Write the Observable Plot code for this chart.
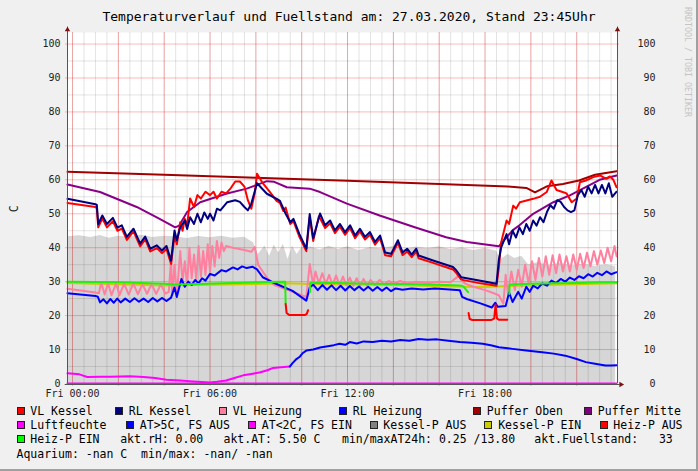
<!DOCTYPE html>
<html>
<head>
<meta charset="utf-8">
<script src="https://cdn.jsdelivr.net/npm/d3@7"></script>
<script src="https://cdn.jsdelivr.net/npm/@observablehq/plot@0.6"></script>
<style>
  html, body { margin: 0; padding: 0; background: #f0f0f0; }
  #root { position: relative; width: 698px; height: 471px; background: #f0f0f0; overflow: hidden;
          font-family: "DejaVu Sans Mono", monospace; color: #000; }
  #root .frameR { position: absolute; right: 0; top: 0; width: 2px; height: 471px; background: #a0a0a0; }
  #root .frameB { position: absolute; left: 0; bottom: 0; width: 698px; height: 2px; background: #a0a0a0; }
  #title { position: absolute; left: 0; top: 8px; width: 698px; text-align: center; font-size: 13px; line-height: 18px; white-space: pre; }
  #wm { position: absolute; left: 683px; top: 7px; writing-mode: vertical-rl; font-size: 8.3px; color: #c4c4c4; white-space: pre; }
  #chart { position: absolute; left: 0; top: 0; width: 698px; height: 405px; }
  #chart svg { max-width: none !important; }
  .lg { position: absolute; font-size: 11.5px; line-height: 14px; height: 14px; white-space: pre; }
  .sq { position: absolute; width: 6px; height: 6px; border: 1px solid #222; }
</style>
</head>
<body>
<div id="root">
  <div id="chart"></div>
  <div id="title">Temperaturverlauf und Fuellstand am: 27.03.2020, Stand 23:45Uhr</div>
  <div id="wm">RRDTOOL / TOBI OETIKER</div>
  <div id="legend"></div>
  <div class="frameR"></div>
  <div class="frameB"></div>
</div>
<script>
// ---------- data (hours of Fri 27.03.2020, values in C) ----------
const xTickHours = [0, 6, 12, 18];
const yTickValues = [0, 10, 20, 30, 40, 50, 60, 70, 80, 90, 100];

const fuellT = [-0.22,0.3,0.8,1.2,1.6,2.0,2.5,3.0,3.5,4.0,4.5,5.0,5.5,6.0,6.5,7.0,7.5,7.9,8.1,8.4,8.6,8.8,9.0,9.2,9.4,9.6,9.8,10.0,10.4,10.8,11.2,11.6,12.0,12.5,13.0,13.5,14.0,14.5,15.0,15.5,16.0,16.5,17.0,17.5,18.0,18.5,18.7,19.0,19.3,19.6,19.9,20.3,20.8,21.3,21.8,22.3,22.8,23.3,23.7];
const fuellV = [43.2,43.5,43.0,43.6,42.8,43.4,43.1,43.7,43.0,43.4,43.2,42.7,43.3,42.9,43.4,42.8,43.1,41.5,38.0,40.5,37.5,40.8,38.5,41.0,36.5,40.5,38.0,40.0,40.2,39.3,40.4,39.5,40.3,39.2,40.1,39.6,40.4,39.4,40.2,39.7,40.3,39.5,40.0,39.2,39.8,39.0,36.5,38.0,36.8,37.5,35.0,35.6,34.8,35.4,34.6,35.2,34.5,35.0,34.4];

const vlKesselT = [-0.22,1.0,1.06,1.12,1.3,1.5,1.76,1.96,2.15,2.37,2.66,2.95,3.17,3.39,3.68,3.9,4.1,4.3,4.45,4.55,4.7,4.8,4.9,5.0,5.13,5.3,5.45,5.6,5.8,6.0,6.15,6.3,6.5,6.7,6.9,7.1,7.3,7.5,7.65,7.8,7.95,8.05,8.3,8.6,8.9,9.05,9.2,9.3,9.5,9.64,9.9,10.2,10.35,10.5,10.75,11.02,11.24,11.45,11.67,11.89,12.11,12.33,12.54,12.76,12.98,13.2,13.42,13.64,13.9,14.2,14.4,14.6,14.8,15.0,15.1,15.7,16.6,16.75,16.96,17.8,18.5,18.6,18.7,18.94,19.05,19.23,19.35,19.52,20.1,20.4,20.69,20.9,21.12,21.35,21.56,21.78,22.0,22.14,22.4,22.72,23.01,23.3,23.45,23.6,23.74];
const vlKesselV = [53.2,52.0,51.6,46.0,48.6,46.0,47.8,45.0,45.6,42.3,44.8,40.4,42.5,38.9,39.9,38.4,39.6,35.2,43.5,41.0,47.5,45.0,48.5,46.5,54.5,52.0,55.5,54.5,56.5,55.5,56.5,54.5,56.5,56.0,57.5,59.5,59.5,58.0,54.0,51.5,56.0,61.8,59.0,56.5,53.8,53.2,50.8,51.8,47.0,47.8,43.2,39.0,49.0,42.0,49.3,45.8,47.2,44.3,46.2,43.8,45.8,42.8,44.8,42.4,43.8,40.9,42.8,37.8,37.5,41.4,37.8,38.9,37.2,38.9,36.9,35.6,33.6,32.5,30.6,29.5,28.8,34.0,41.5,48.0,47.0,52.4,51.5,53.4,54.4,55.0,56.4,59.8,57.0,56.5,56.0,53.4,54.5,59.3,59.8,60.8,61.3,60.3,61.0,60.0,57.8];

const rlKesselT = [-0.22,1.0,1.06,1.12,1.3,1.5,1.76,1.96,2.15,2.37,2.66,2.95,3.17,3.39,3.68,3.9,4.1,4.3,4.45,4.55,4.7,4.9,5.0,5.13,5.3,5.45,5.6,5.75,5.9,6.0,6.15,6.3,6.45,6.75,7.1,7.3,7.5,7.65,7.8,8.05,8.48,8.91,9.05,9.3,9.5,9.64,9.9,10.2,10.35,10.5,10.8,11.02,11.24,11.45,11.67,11.89,12.11,12.33,12.54,12.76,12.98,13.2,13.42,13.64,13.9,14.2,14.4,14.6,14.8,15.0,15.1,15.7,16.6,16.75,16.96,17.8,18.5,18.6,18.7,18.94,19.05,19.2,19.35,19.5,19.65,19.8,19.95,20.1,20.25,20.4,20.55,20.7,20.85,21.0,21.15,21.3,21.45,21.6,21.75,21.9,22.05,22.2,22.35,22.5,22.65,22.8,22.95,23.1,23.25,23.4,23.55,23.74];
const rlKesselV = [54.4,52.8,52.6,47.0,49.5,47.0,48.8,45.9,46.6,43.2,45.6,41.2,43.3,39.7,40.7,39.2,40.5,36.2,45.1,42.2,46.0,48.0,45.5,49.0,47.0,50.0,47.5,50.4,48.5,50.0,48.0,51.5,51.0,53.4,54.0,53.5,52.0,51.0,53.0,59.0,55.9,54.4,53.8,50.0,47.5,48.5,44.0,39.7,49.9,42.8,50.1,46.6,48.0,45.1,47.0,44.6,46.6,43.6,45.6,43.2,44.6,41.7,43.6,38.6,38.2,42.2,38.6,39.7,38.0,39.7,37.7,36.3,34.3,33.3,31.3,30.3,29.4,36.3,40.0,44.0,41.0,45.0,43.0,46.0,44.0,47.0,45.0,48.0,46.5,49.0,47.5,50.5,52.5,51.5,54.0,53.5,52.0,51.0,50.5,51.0,55.5,57.0,55.0,58.0,56.0,58.5,56.0,58.5,56.0,59.0,55.0,56.5];

const vlHeizT = [-0.22,1.0,1.15,1.25,1.4,1.55,1.7,1.9,2.05,2.25,2.45,2.65,2.85,3.05,3.25,3.45,3.65,3.85,4.05,4.2,4.3,4.35,4.45,4.55,4.7,4.8,4.9,5.0,5.1,5.2,5.3,5.4,5.5,5.6,5.7,5.8,5.9,6.0,6.1,6.2,6.3,6.4,6.5,6.6,6.7,7.0,7.5,7.8,7.95,8.1,8.5,8.8,9.4,10.2,10.35,10.5,10.6,10.75,10.9,11.05,11.2,11.35,11.5,11.65,11.8,11.95,12.1,12.25,12.4,12.55,12.7,12.85,13.0,13.2,13.4,13.6,13.8,14.0,14.3,14.6,15.0,15.5,16.0,16.5,16.9,17.1,17.5,18.0,18.3,18.6,18.8,18.9,19.0,19.15,19.3,19.45,19.6,19.75,19.9,20.05,20.2,20.35,20.5,20.65,20.8,20.95,21.1,21.25,21.4,21.55,21.7,21.85,22.0,22.15,22.3,22.45,22.6,22.75,22.9,23.05,23.2,23.35,23.5,23.65,23.74];
const vlHeizV = [27.9,26.8,26.6,29.8,26.2,29.6,26.0,29.5,26.0,29.4,26.2,29.5,26.3,29.3,26.4,29.3,26.4,29.2,26.5,27.0,36.5,26.0,35.0,26.0,39.0,30.0,36.0,29.0,40.0,31.0,38.0,30.5,40.5,31.5,39.0,32.0,41.0,33.0,40.5,34.5,42.0,37.0,41.5,39.0,40.5,40.0,39.3,38.8,40.2,35.0,31.0,29.0,27.5,25.5,35.2,29.0,33.0,29.5,32.5,29.3,32.0,29.0,31.8,29.0,31.5,29.0,31.2,28.8,31.0,28.8,30.8,28.8,30.5,29.0,30.5,29.2,30.2,29.4,30.2,29.5,30.0,29.6,30.0,29.8,32.0,29.5,28.5,27.5,26.8,26.0,23.5,32.0,26.5,33.0,27.5,33.5,28.5,35.0,29.5,36.0,30.5,37.0,31.5,37.5,32.0,37.8,32.5,38.0,33.0,37.5,33.0,38.0,33.5,38.2,34.0,38.5,34.5,39.0,35.0,39.2,35.5,40.0,36.0,40.5,37.5];

const rlHeizT = [-0.22,1.0,1.1,1.2,1.35,1.5,1.65,1.8,1.95,2.1,2.3,2.5,2.7,2.9,3.1,3.3,3.5,3.7,3.9,4.1,4.3,4.45,4.55,4.75,4.9,5.05,5.2,5.35,5.5,5.65,5.8,6.0,6.2,6.5,6.7,7.0,7.2,7.4,7.6,7.85,8.05,8.3,8.9,9.6,10.2,10.35,10.5,10.7,10.9,11.1,11.3,11.5,11.7,11.9,12.1,12.3,12.5,12.7,12.9,13.1,13.3,13.5,13.7,13.9,14.1,14.4,14.8,15.3,15.8,16.3,16.9,17.0,17.2,17.8,18.3,18.45,18.55,18.9,19.05,19.2,19.45,19.6,19.8,19.95,20.1,20.3,20.5,20.7,20.9,21.1,21.3,21.5,21.7,21.9,22.1,22.3,22.5,22.7,22.9,23.1,23.3,23.5,23.74];
const rlHeizV = [26.6,25.8,25.6,23.9,24.8,23.6,24.9,23.8,25.0,23.9,25.0,24.0,25.1,24.1,25.0,24.0,25.2,24.2,25.2,24.3,25.3,28.3,25.5,30.8,28.5,30.0,29.0,30.5,29.5,31.0,30.3,32.3,31.8,33.4,33.0,34.2,33.6,34.5,34.0,34.4,33.6,31.3,29.3,27.3,24.4,28.3,29.1,27.5,29.0,27.6,28.9,27.5,28.8,27.4,28.7,27.5,28.6,27.4,28.5,27.3,28.4,27.3,28.3,27.2,28.0,27.6,28.0,27.7,28.0,27.8,27.5,25.5,24.9,23.6,22.4,23.8,22.6,22.8,26.8,24.0,27.0,25.0,28.5,27.0,28.8,28.0,29.5,28.8,30.3,29.6,30.8,30.0,31.2,30.5,31.6,31.0,32.2,31.5,32.6,31.9,33.0,32.2,32.8];

const pufferObenT = [-0.22,4,8,12,16,19.0,19.8,20.18,20.7,21.4,22.1,22.8,23.74];
const pufferObenV = [62.4,61.5,60.6,59.7,58.8,58.0,57.6,56.3,58.1,58.8,59.8,61.5,62.5];

const pufferMitteT = [-0.22,1.2,2.8,3.8,4.48,4.65,5.0,5.57,6.7,7.6,8.48,8.8,9.35,10.35,10.8,11.97,13.4,14.9,16.3,17.2,18.6,19.2,19.5,20.1,20.98,21.7,22.1,23.0,23.74];
const pufferMitteV = [58.6,56.4,52.0,48.5,46.0,46.5,50.5,53.4,55.9,57.4,59.6,59.4,57.8,57.4,56.4,53.0,49.5,46.1,43.1,41.7,40.4,45.1,46.6,50.0,53.4,55.4,56.8,60.0,61.3];

const atLowT = [-0.22,0.3,0.64,1.2,1.65,2.5,3.1,3.6,4.1,4.7,5.27,6.0,6.3,6.7,7.1,7.45,7.8,8.2,8.5,8.75,9.1,9.48];
const atLowV = [3.0,2.7,1.9,2.0,2.0,2.1,1.9,1.6,1.1,0.9,0.6,0.3,0.5,0.9,1.7,2.4,2.8,3.3,3.9,4.6,4.8,5.0];
const atHighT = [9.48,9.6,9.77,9.9,10.05,10.2,10.5,10.8,11.07,11.4,11.65,11.9,12.1,12.4,12.7,13.1,13.5,13.9,14.3,14.7,15.1,15.5,15.9,16.4,16.9,17.4,17.9,18.3,18.6,19.2,19.8,20.5,21.0,21.5,22.0,22.4,22.8,23.25,23.5,23.74];
const atHighV = [5.0,6.0,7.2,7.8,9.0,9.7,10.0,10.6,10.9,11.3,11.7,11.4,12.2,11.8,12.4,12.2,12.6,12.4,12.8,12.6,13.1,12.9,13.0,12.6,12.2,12.0,11.7,11.2,10.7,10.2,9.7,9.2,8.8,8.2,7.2,6.3,5.8,5.3,5.3,5.4];

const luftfeuchteT = [-0.22, 23.74];
const luftfeuchteV = [0, 0];

const kesselEinT = [-0.22,4,8,9.3,10.4,14,17,18,19,21,23.74];
const kesselEinV = [29.6,28.9,29.3,29.5,29.3,29.0,28.5,28.4,28.7,29.1,29.5];

const heizEinT1 = [-0.22,1.0,2.0,3.0,4.0,4.5,5.5,6.5,7.5,8.5,9.28,9.3];
const heizEinV1 = [30.0,29.9,29.8,29.6,29.4,29.2,29.3,29.5,29.7,29.9,30.0,23.4];
const heizEinT2 = [10.36,10.37,11.5,13.0,14.5,16.0,16.9,17.05,17.26];
const heizEinV2 = [26.9,29.7,29.6,29.4,29.3,29.1,28.9,28.6,26.9];
const heizEinT3 = [19.06,19.07,20,21,22,23,23.74];
const heizEinV3 = [26.4,29.2,29.4,29.5,29.6,29.8,29.8];

const heizAusT1 = [9.3,9.34,9.45,10.15,10.22,10.28];
const heizAusV1 = [23.4,20.8,20.2,20.2,20.5,21.6];
const heizAusT2 = [17.28,17.33,17.45,18.28,18.4,18.46,18.52,18.6,18.97];
const heizAusV2 = [20.8,19.0,18.7,18.7,19.2,23.2,19.2,18.8,18.8];

// legend
const legendRows = [
  [["VL Kessel","#ff0000",16.5],["RL Kessel","#000080",115],["VL Heizung","#ff7f9f",219],["RL Heizung","#0000ff",339],["Puffer Oben","#a00000",473],["Puffer Mitte","#800080",584]],
  [["Luftfeuchte","#ff00ff",16.5],["AT>5C, FS AUS","#0000ff",126],["AT<2C, FS EIN","#ff00ff",248],["Kessel-P AUS","#808080",369.5],["Kessel-P EIN","#cccc00",484.4],["Heiz-P AUS","#ff0000",599.5]],
  [["Heiz-P EIN","#00ff00",16.5]]
];
const legendTexts = [
  ["akt.rH: 0.00", 120.2, 439],
  ["akt.AT: 5.50 C", 223.5, 439],
  ["min/maxAT24h: 0.25 /13.80", 342, 439],
  ["akt.Fuellstand:   33", 534.3, 439],
  ["Aquarium: -nan C  min/max: -nan/ -nan", 16.5, 453.5]
];
const legendRowY = [411, 425, 439];

// ---------- build ----------
const pts = (t, v, seg) => t.map((d, i) => ({t: d, v: v[i], seg}));
const xmin = -0.22, xmax = 23.78, ymax = 103.4;
const minorX = d3.range(0, 24, 0.5);
const majorX = d3.range(0, 24, 2);
const minorY = d3.range(5, 101, 10);
const majorY = d3.range(10, 101, 10);
const pad = h => "Fri " + String(h).padStart(2, "0") + ":00";
const F = "DejaVu Sans Mono";

const line = (data, color) => Plot.line(data, {x: "t", y: "v", z: "seg", stroke: color, strokeWidth: 2});

const chart = Plot.plot({
  width: 698, height: 405,
  marginLeft: 67, marginRight: 81, marginTop: 32, marginBottom: 22,
  style: {background: "transparent", fontFamily: F, fontSize: "10px", color: "#222", overflow: "visible", maxWidth: "none"},
  x: {domain: [xmin, xmax]},
  y: {domain: [0, ymax]},
  marks: [
    Plot.frame({fill: "white", stroke: "none"}),
    Plot.areaY(pts(fuellT, fuellV), {x: "t", y: "v", fill: "#d6d6d6"}),
    Plot.ruleX(minorX, {stroke: "#000", strokeOpacity: 0.11}),
    Plot.ruleY(minorY, {stroke: "#000", strokeOpacity: 0.11}),
    Plot.ruleX(majorX, {stroke: "#ff0000", strokeOpacity: 0.28, insetBottom: -3}),
    Plot.ruleY(majorY, {stroke: "#ff0000", strokeOpacity: 0.28, insetLeft: -2, insetRight: -2}),
    line(pts(kesselEinT, kesselEinV), "#cccc00"),
    line(pts(vlHeizT, vlHeizV), "#ff7f9f"),
    line(pts(rlHeizT, rlHeizV), "#0000ff"),
    line(pts(atLowT, atLowV), "#ff00ff"),
    line(pts(atHighT, atHighV), "#0000ff"),
    line(pts(pufferMitteT, pufferMitteV), "#880088"),
    line(pts(pufferObenT, pufferObenV), "#a00000"),
    line(pts(vlKesselT, vlKesselV), "#ff0000"),
    line(pts(rlKesselT, rlKesselV), "#000080"),
    line([...pts(heizEinT1, heizEinV1, 1), ...pts(heizEinT2, heizEinV2, 2), ...pts(heizEinT3, heizEinV3, 3)], "#22ee11"),
    line([...pts(heizAusT1, heizAusV1, 1), ...pts(heizAusT2, heizAusV2, 2)], "#ff0000"),
    line(pts(luftfeuchteT, luftfeuchteV), "#ff00ff"),
    // axes
    Plot.ruleX([xmin], {y1: 0, y2: 105, stroke: "#555"}),
    Plot.ruleX([xmax], {y1: 0, y2: 105, stroke: "#555"}),
    Plot.ruleY([0], {x1: xmin - 0.1, x2: 23.9, stroke: "#555", dy: 1}),
    Plot.dot([[xmin, 104.2], [xmax, 104.2]], {x: d => d[0], y: d => d[1], symbol: "triangle2", r: 2.6, fill: "#7a1010", stroke: "none"}),
    Plot.dot([[23.93, 0]], {x: d => d[0], y: d => d[1], symbol: "triangle2", r: 2.6, fill: "#7a1010", stroke: "none", rotate: 90, dy: 1}),
    Plot.axisY({ticks: yTickValues, tickSize: 0, tickPadding: 7, label: null, fontSize: 10}),
    Plot.text(yTickValues, {x: xmax, y: d => d, dx: 38, textAnchor: "end", fontSize: 10}),
    Plot.axisX({ticks: xTickHours, tickFormat: pad, tickSize: 0, tickPadding: 6, label: null, fontSize: 10}),
    Plot.text(["C"], {x: xmin, y: 51.5, dx: -53, rotate: -90, fontSize: 11.5})
  ]
});
chart.style.position = "absolute";
chart.style.left = "0px";
chart.style.top = "0px";
document.getElementById("chart").appendChild(chart);

// legend (HTML)
const lg = document.getElementById("legend");
legendRows.forEach((row, ri) => {
  const cy = legendRowY[ri];
  row.forEach(([label, color, x]) => {
    const sq = document.createElement("div");
    sq.className = "sq";
    sq.style.left = x + "px";
    sq.style.top = (cy - 4) + "px";
    sq.style.background = color;
    lg.appendChild(sq);
    const tx = document.createElement("div");
    tx.className = "lg";
    tx.style.left = (x + 13.8) + "px";
    tx.style.top = (cy - 7) + "px";
    tx.textContent = label;
    lg.appendChild(tx);
  });
});
legendTexts.forEach(([label, x, cy]) => {
  const tx = document.createElement("div");
  tx.className = "lg";
  tx.style.left = x + "px";
  tx.style.top = (cy - 7) + "px";
  tx.textContent = label;
  lg.appendChild(tx);
});
</script>
</body>
</html>
